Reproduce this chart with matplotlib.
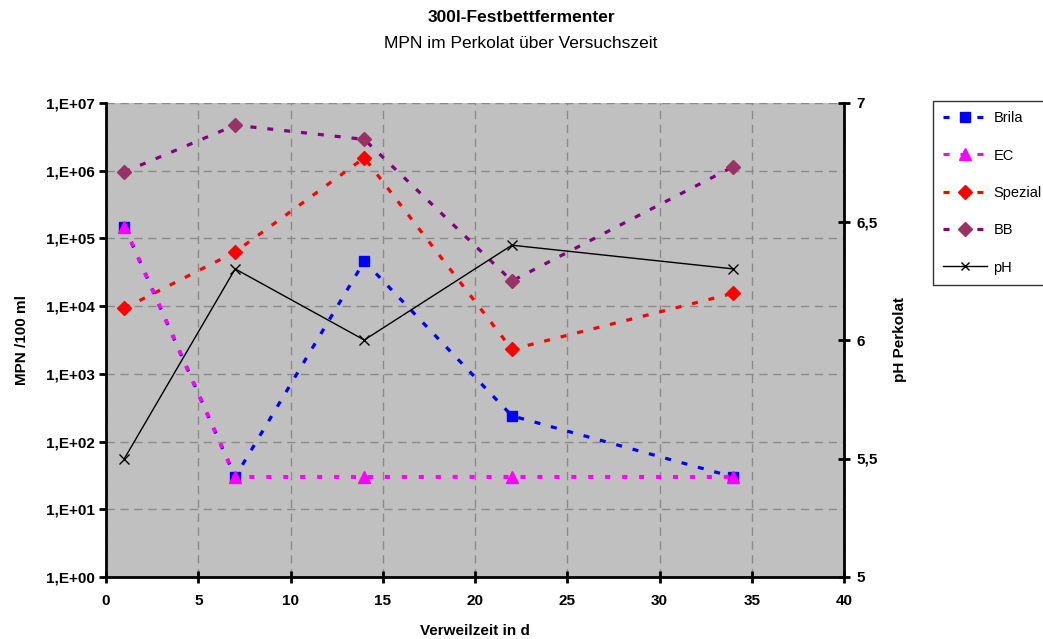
import matplotlib
matplotlib.use("Agg")
import matplotlib.pyplot as plt
from matplotlib.lines import Line2D

plt.rcParams['font.family'] = ['Liberation Sans', 'DejaVu Sans']
plt.rcParams['lines.scale_dashes'] = False

days = [1, 7, 14, 22, 34]
brila = [1.5e5, 30, 4.6e4, 240, 30]
ec = [1.5e5, 30, 30, 30, 30]
spezial = [9300, 6.3e4, 1.55e6, 2300, 1.55e4]
bb = [9.6e5, 4.7e6, 2.9e6, 2.35e4, 1.15e6]
ph = [5.5, 6.3, 6.0, 6.4, 6.3]

left_ticks = [1e0, 1e1, 1e2, 1e3, 1e4, 1e5, 1e6, 1e7]
left_labels = ['1,E+00', '1,E+01', '1,E+02', '1,E+03', '1,E+04', '1,E+05', '1,E+06', '1,E+07']
right_ticks = [5, 5.5, 6, 6.5, 7]
right_labels = ['5', '5,5', '6', '6,5', '7']
x_ticks = [0, 5, 10, 15, 20, 25, 30, 35, 40]

FS = 11
W, H = 1043, 639
fig = plt.figure(figsize=(W / 100, H / 100), dpi=100)
fig.patch.set_facecolor('white')
ax = fig.add_axes([106 / W, 1 - 577 / H, (844 - 106) / W, (577 - 103) / H])
ax.set_facecolor('#C0C0C0')
ax.set_yscale('log')
ax.set_xlim(0, 40)
ax.set_ylim(1, 1e7)

dash = (0, (4.3, 7.9))
lw = 2.3
ax.plot(days, spezial, color='#FF0000', lw=lw, ls=dash, marker='D', ms=7, mfc='#FF0000', mec='#FF0000', zorder=3)
ax.plot(days, bb, color='#800080', lw=lw, ls=dash, marker='D', ms=7, mfc='#993366', mec='#993366', zorder=3)
ax.plot(days, brila, color='#0000FF', lw=lw, ls=dash, marker='s', ms=7.5, mfc='#0000FF', mec='#0000FF', zorder=3)
ax.plot(days, ec, color='#FF00FF', lw=lw + 0.6, ls=(0, (3.6, 8.6)), marker='^', ms=8, mfc='#FF00FF', mec='#FF00FF', zorder=4)

ax.set_yticks(left_ticks)
ax.set_yticklabels(left_labels)
ax.yaxis.set_minor_locator(matplotlib.ticker.NullLocator())
ax.set_xticks(x_ticks)
ax.set_xticklabels([str(t) for t in x_ticks])
ax.grid(True, color='#8A8A8A', ls=(0, (6, 4)), lw=1.0)
ax.set_axisbelow(True)

for s in ['left', 'bottom']:
    ax.spines[s].set_linewidth(2)
    ax.spines[s].set_color('black')
ax.spines['top'].set_visible(False)
ax.spines['right'].set_visible(False)
ax.tick_params(axis='y', direction='out', length=5, width=2, labelsize=FS, pad=3)
ax.tick_params(axis='x', direction='inout', length=8, width=2, labelsize=FS, pad=8)
for lab in ax.get_xticklabels() + ax.get_yticklabels():
    lab.set_fontweight('bold')

ax.set_xlabel('Verweilzeit in d', fontsize=FS, fontweight='bold', labelpad=12)
ax.set_ylabel('MPN /100 ml', fontsize=FS, fontweight='bold', labelpad=12)

ax2 = ax.twinx()
ax2.set_ylim(5, 7)
ax2.plot(days, ph, color='black', lw=1.0, marker='x', ms=7, mew=1.0, zorder=5)
ax2.set_yticks(right_ticks)
ax2.set_yticklabels(right_labels)
for s in ['left', 'bottom', 'top']:
    ax2.spines[s].set_visible(False)
ax2.spines['right'].set_linewidth(2)
ax2.tick_params(axis='y', direction='inout', length=8, width=2, labelsize=FS, pad=5)
for lab in ax2.get_yticklabels():
    lab.set_fontweight('bold')
ax2.set_ylabel('pH Perkolat', fontsize=FS, fontweight='bold', labelpad=11)

fig.text(521 / W, 1 - 18 / H, '300l-Festbettfermenter', ha='center', va='center', fontsize=12.5, fontweight='bold')
fig.text(521 / W, 1 - 43 / H, 'MPN im Perkolat über Versuchszeit', ha='center', va='center', fontsize=12.5)

handles = [
    Line2D([], [], color='#0000FF', lw=lw, ls=dash, marker='s', ms=7, mfc='#0000FF', mec='#0000FF'),
    Line2D([], [], color='#FF00FF', lw=lw, ls=dash, marker='^', ms=8, mfc='#FF00FF', mec='#FF00FF'),
    Line2D([], [], color='#FF0000', lw=lw, ls=dash, marker='D', ms=7, mfc='#FF0000', mec='#FF0000'),
    Line2D([], [], color='#800080', lw=lw, ls=dash, marker='D', ms=7, mfc='#993366', mec='#993366'),
    Line2D([], [], color='black', lw=1.0, marker='x', ms=6, mew=1.0),
]
labels = ['Brila', 'EC', 'Spezial', 'BB', 'pH']
leg = fig.legend(handles, labels, loc='upper left', bbox_to_anchor=(933 / W, 1 - 101 / H),
                 frameon=True, fancybox=False, edgecolor='black', fontsize=10.5,
                 labelspacing=1.6, handlelength=3.0, handletextpad=0.45, borderpad=0.7,
                 borderaxespad=0)
leg.get_frame().set_linewidth(1.0)

fig.savefig('out.png', dpi=100, facecolor='white')
